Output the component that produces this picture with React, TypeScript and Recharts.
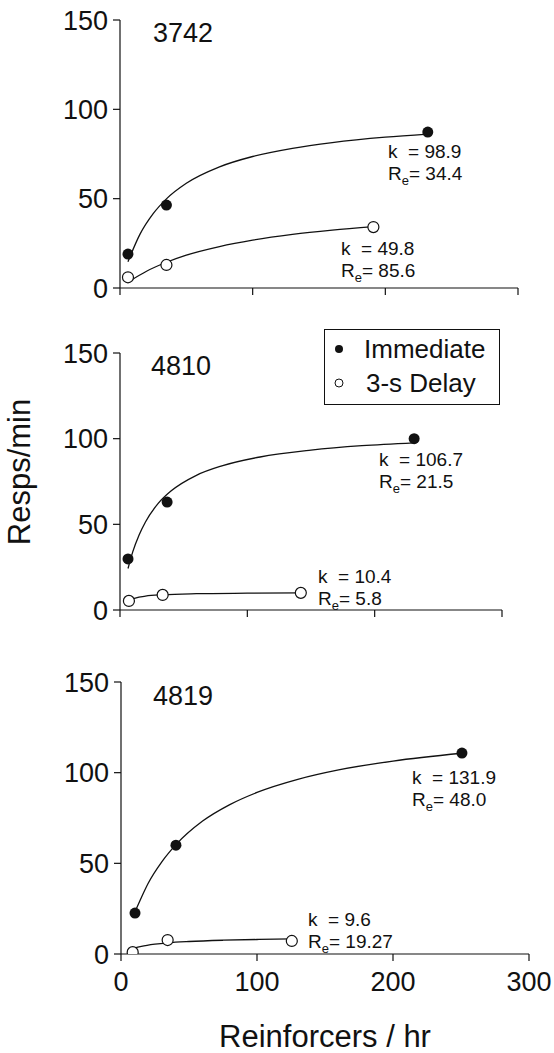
import { ComposedChart, Line, Scatter, XAxis, YAxis } from 'recharts';

const FONT = '"Liberation Sans", Arial, sans-serif';
const INK = '#111';

const xTicks = [0, 100, 200, 300];
const yTicks = [0, 50, 100, 150];

// subject 3742
const pts3742Imm = [{ r: 6, y: 19 }, { r: 35, y: 46.4 }, { r: 232, y: 87.3 }];
const pts3742Del = [{ r: 6, y: 6 }, { r: 35, y: 12.9 }, { r: 191, y: 34.1 }];
const fit3742Imm = [
  { r: 6, y: 14.7 }, { r: 15, y: 30 }, { r: 25, y: 41.6 }, { r: 35, y: 49.9 },
  { r: 50, y: 58.6 }, { r: 75, y: 67.8 }, { r: 100, y: 73.6 }, { r: 130, y: 78.2 },
  { r: 160, y: 81.4 }, { r: 200, y: 84.4 }, { r: 232, y: 86.1 },
];
const fit3742Del = [
  { r: 6, y: 3.3 }, { r: 20, y: 9.4 }, { r: 35, y: 14.4 }, { r: 50, y: 18.4 },
  { r: 75, y: 23.2 }, { r: 100, y: 26.8 }, { r: 130, y: 30 }, { r: 160, y: 32.4 },
  { r: 191, y: 34.4 },
];

// subject 4810
const pts4810Imm = [{ r: 6.3, y: 29.8 }, { r: 37, y: 63 }, { r: 231, y: 100 }];
const pts4810Del = [{ r: 7, y: 5.3 }, { r: 33.5, y: 8.8 }, { r: 142, y: 10 }];
const fit4810Imm = [
  { r: 6.3, y: 24.2 }, { r: 10, y: 33.9 }, { r: 15, y: 43.8 }, { r: 20, y: 51.4 },
  { r: 30, y: 62.2 }, { r: 40, y: 69.4 }, { r: 60, y: 78.6 }, { r: 80, y: 84.1 },
  { r: 110, y: 89.3 }, { r: 150, y: 93.3 }, { r: 190, y: 95.9 }, { r: 231, y: 97.6 },
];
const fit4810Del = [
  { r: 7, y: 5.7 }, { r: 12, y: 7 }, { r: 20, y: 8.1 }, { r: 33.5, y: 8.9 },
  { r: 60, y: 9.5 }, { r: 100, y: 9.8 }, { r: 142, y: 10 },
];

// subject 4819
const pts4819Imm = [{ r: 10.3, y: 22.6 }, { r: 40.4, y: 60 }, { r: 250.7, y: 110.8 }];
const pts4819Del = [{ r: 8.6, y: 1 }, { r: 34.3, y: 7.7 }, { r: 125.6, y: 7.2 }];
const fit4819Imm = [
  { r: 10.3, y: 23.3 }, { r: 15, y: 31.2 }, { r: 20, y: 39 }, { r: 30, y: 50.8 },
  { r: 40.4, y: 60.3 }, { r: 60, y: 73.3 }, { r: 80, y: 82.4 }, { r: 100, y: 89.1 },
  { r: 130, y: 96.3 }, { r: 160, y: 101.5 }, { r: 200, y: 106.4 }, { r: 250.7, y: 110.7 },
];
const fit4819Del = [
  { r: 8.6, y: 3 }, { r: 15, y: 4.2 }, { r: 25, y: 5.4 }, { r: 34.3, y: 6.15 },
  { r: 50, y: 6.9 }, { r: 75, y: 7.6 }, { r: 100, y: 8 }, { r: 125.6, y: 8.3 },
];

const filledDot = (p: any) => <circle cx={p.cx} cy={p.cy} r={5.5} fill={INK} />;
const openDot = (p: any) => (
  <circle cx={p.cx} cy={p.cy} r={5.5} fill="#fff" stroke={INK} strokeWidth={1.2} />
);

function Panel({ top, height, margin, yWidth, xHeight, xLabels, imm, del, fitImm, fitDel }: any) {
  return (
    <div style={{ position: 'absolute', left: 0, top }}>
      <ComposedChart width={554} height={height} margin={margin} style={{ overflow: 'visible' }}>
        <XAxis
          type="number" dataKey="r" domain={[0, 300]} ticks={xTicks} allowDataOverflow interval={0}
          height={xHeight} tickSize={7} tickMargin={11} stroke={INK} strokeWidth={1.2}
          tick={{ fill: INK, fontSize: 27 }}
          tickFormatter={xLabels ? undefined : () => ''}
        />
        <YAxis
          type="number" dataKey="y" domain={[0, 150]} ticks={yTicks} allowDataOverflow interval={0}
          width={yWidth} tickSize={7} tickMargin={5} stroke={INK} strokeWidth={1.2}
          tick={{ fill: INK, fontSize: 27 }}
        />
        <Line data={fitImm} dataKey="y" type="monotone" dot={false} stroke={INK} strokeWidth={1.3} isAnimationActive={false} />
        <Line data={fitDel} dataKey="y" type="monotone" dot={false} stroke={INK} strokeWidth={1.3} isAnimationActive={false} />
        <Scatter data={imm} dataKey="y" shape={filledDot} isAnimationActive={false} />
        <Scatter data={del} dataKey="y" shape={openDot} isAnimationActive={false} />
      </ComposedChart>
    </div>
  );
}

function Fit({ x, y, k, re }: { x: number; y: number; k: string; re: string }) {
  return (
    <g fontSize={19} fill={INK}>
      <text x={x} y={y} xmlSpace="preserve">{`k  = ${k}`}</text>
      <text x={x} y={y + 22}>
        R<tspan fontSize={13} dy={5}>e</tspan>
        <tspan dy={-5}>{`= ${re}`}</tspan>
      </text>
    </g>
  );
}

export default function App() {
  return (
    <div style={{ position: 'absolute', left: 0, top: 0, width: 554, height: 1053, background: '#fff', fontFamily: FONT }}>
      <Panel top={0} height={316} margin={{ top: 20, right: 36, bottom: 16, left: 60 }} yWidth={60} xHeight={12}
        xLabels={false} imm={pts3742Imm} del={pts3742Del} fitImm={fit3742Imm} fitDel={fit3742Del} />
      <Panel top={300} height={336} margin={{ top: 53, right: 52, bottom: 16, left: 60 }} yWidth={60} xHeight={10}
        xLabels={false} imm={pts4810Imm} del={pts4810Del} fitImm={fit4810Imm} fitDel={fit4810Del} />
      <Panel top={620} height={433} margin={{ top: 62, right: 25, bottom: 59, left: 60 }} yWidth={61} xHeight={40}
        xLabels imm={pts4819Imm} del={pts4819Del} fitImm={fit4819Imm} fitDel={fit4819Del} />

      <svg width={554} height={1053} style={{ position: 'absolute', left: 0, top: 0, pointerEvents: 'none' }}>
        <g fontSize={27} fill={INK}>
          <text x={153} y={42}>3742</text>
          <text x={151} y={375}>4810</text>
          <text x={153} y={705}>4819</text>
        </g>

        <Fit x={388} y={158} k="98.9" re="34.4" />
        <Fit x={341} y={255} k="49.8" re="85.6" />
        <Fit x={379} y={466} k="106.7" re="21.5" />
        <Fit x={318} y={583} k="10.4" re="5.8" />
        <Fit x={412} y={784} k="131.9" re="48.0" />
        <Fit x={308} y={926} k="9.6" re="19.27" />

        <rect x={324.5} y={329.5} width={175} height={75} fill="#fff" stroke={INK} strokeWidth={1} />
        <circle cx={339} cy={349} r={4} fill={INK} />
        <circle cx={339} cy={383} r={4} fill="#fff" stroke={INK} strokeWidth={1} />
        <g fontSize={26} fill={INK}>
          <text x={364} y={358}>Immediate</text>
          <text x={366} y={392}>3-s Delay</text>
        </g>

        <text transform="translate(30,472) rotate(-90)" textAnchor="middle" fontSize={31} fill={INK}>Resps/min</text>
        <text x={325} y={1047} textAnchor="middle" fontSize={31} fill={INK}>Reinforcers / hr</text>
      </svg>
    </div>
  );
}
